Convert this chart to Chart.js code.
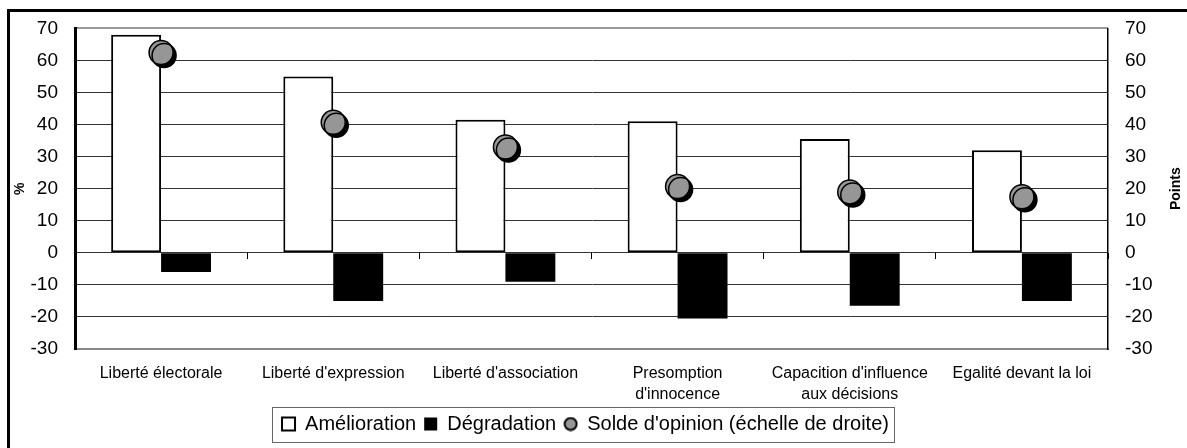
<!DOCTYPE html>
<html>
<head>
<meta charset="utf-8">
<script src="https://cdn.jsdelivr.net/npm/chart.js@4.4.1/dist/chart.umd.min.js"></script>
<style>
html, body { margin: 0; padding: 0; background: #fff; overflow: hidden; }
#cadre { position: absolute; left: 7px; top: 9px; width: 1300px; height: 600px; border: 3px solid #000; box-sizing: border-box; }
#zone { position: absolute; left: 0; top: 0; width: 1187px; height: 448px; }
</style>
</head>
<body>
<div id="cadre"></div>
<div id="zone"><canvas id="grafico" width="1187" height="448"></canvas></div>
<script>
// données
const categories = [
  'Liberté électorale',
  "Liberté d'expression",
  "Liberté d'association",
  ['Presomption', "d'innocence"],
  ["Capacition d'influence", 'aux décisions'],
  'Egalité devant la loi'
];
const amelioration = [68, 55, 41.5, 41, 35.5, 32];
const degradation = [-6, -15, -9, -20.5, -16.5, -15];
const solde = [62.5, 40.7, 33, 20.7, 19, 17.5];
const echelleMin = -30;
const echelleMax = 70;
const pas = 10;

Chart.defaults.font.family = '"Liberation Sans", Arial, sans-serif';
Chart.defaults.color = '#000';

// petit rond gris pour la légende
function rondLegende() {
  const c = document.createElement('canvas');
  c.width = 15; c.height = 15;
  const x = c.getContext('2d');
  x.beginPath();
  x.arc(7.5, 7.5, 6, 0, Math.PI * 2);
  x.fillStyle = '#969696';
  x.fill();
  x.lineWidth = 2;
  x.strokeStyle = '#000';
  x.stroke();
  return c;
}
const rond = rondLegende();

// ombre noire décalée sous les points
const ombrePoints = {
  id: 'ombrePoints',
  beforeDatasetDraw(chart, args) {
    if (args.meta.type !== 'line') return;
    const ctx = chart.ctx;
    ctx.save();
    ctx.shadowColor = '#000';
    ctx.shadowOffsetX = 3;
    ctx.shadowOffsetY = 3;
    ctx.shadowBlur = 0;
  },
  afterDatasetDraw(chart, args) {
    if (args.meta.type !== 'line') return;
    chart.ctx.restore();
  }
};

// cadre autour de la légende
const cadreLegende = {
  id: 'cadreLegende',
  afterDraw(chart) {
    const boites = chart.legend.legendHitBoxes;
    if (!boites || !boites.length) return;
    const ctx = chart.ctx;
    const g = Math.min(...boites.map(b => b.left)) - 10;
    const d = Math.max(...boites.map(b => b.left + b.width)) + 5;
    const h = boites[0].top - 7.5;
    const bas = boites[0].top + boites[0].height + 7.5;
    ctx.save();
    ctx.strokeStyle = '#666';
    ctx.lineWidth = 1;
    ctx.strokeRect(Math.round(g) + 0.5, Math.round(h) + 0.5, Math.round(d - g), Math.round(bas - h));
    ctx.restore();
  }
};

// titre de l'axe de droite, lu de bas en haut
const titreDroite = {
  id: 'titreDroite',
  afterDraw(chart) {
    const s = chart.scales.y1;
    const ctx = chart.ctx;
    ctx.save();
    ctx.translate(s.right + 13, (chart.chartArea.top + chart.chartArea.bottom) / 2);
    ctx.rotate(-Math.PI / 2);
    ctx.font = 'bold 14px "Liberation Sans", Arial, sans-serif';
    ctx.textAlign = 'center';
    ctx.textBaseline = 'middle';
    ctx.fillStyle = '#000';
    ctx.fillText('Points', 0, 0);
    ctx.restore();
  }
};

new Chart(document.getElementById('grafico').getContext('2d'), {
  type: 'bar',
  data: {
    labels: categories,
    datasets: [
      {
        label: 'Amélioration',
        data: amelioration,
        backgroundColor: '#fff',
        borderColor: '#000',
        borderWidth: 2,
        borderSkipped: false,
        pointStyle: 'rect',
        order: 1
      },
      {
        label: 'Dégradation',
        data: degradation,
        backgroundColor: '#000',
        borderColor: '#000',
        borderWidth: 0,
        pointStyle: 'rect',
        order: 1
      },
      {
        type: 'line',
        label: "Solde d'opinion (échelle de droite)",
        data: solde,
        yAxisID: 'y1',
        showLine: false,
        pointStyle: 'circle',
        pointRadius: 12,
        pointHoverRadius: 12,
        pointBackgroundColor: '#969696',
        pointBorderColor: '#000',
        pointBorderWidth: 1.5,
        backgroundColor: '#969696',
        borderColor: '#000',
        borderWidth: 1.5,
        order: 0
      }
    ]
  },
  options: {
    responsive: false,
    animation: false,
    layout: { padding: { left: 8, right: 24, top: 28, bottom: 4 } },
    datasets: { bar: { categoryPercentage: 0.58, barPercentage: 1 } },
    plugins: {
      tooltip: { enabled: false },
      legend: {
        position: 'bottom',
        labels: {
          usePointStyle: true,
          boxWidth: 13,
          boxHeight: 13,
          padding: 8,
          color: '#000',
          font: { size: 20 },
          sort: (a, b) => a.datasetIndex - b.datasetIndex,
          generateLabels(chart) {
            const items = Chart.defaults.plugins.legend.labels.generateLabels(chart);
            items.forEach(it => {
              if (chart.data.datasets[it.datasetIndex].type === 'line') it.pointStyle = rond;
            });
            return items;
          }
        }
      }
    },
    scales: {
      x: {
        grid: { display: false, drawTicks: false },
        border: { color: '#888', width: 2 },
        ticks: { color: '#000', font: { size: 16, lineHeight: 1.3 }, padding: 14, maxRotation: 0, autoSkip: false },
        afterFit: s => { s.height = 57; }
      },
      xZero: {
        type: 'category',
        position: { y: 0 },
        offset: true,
        grid: { offset: true, drawOnChartArea: false, drawTicks: true, tickLength: 6, tickColor: '#000', tickWidth: 1 },
        border: { display: false },
        ticks: { display: false }
      },
      y: {
        position: 'left',
        min: echelleMin,
        max: echelleMax,
        ticks: { stepSize: pas, color: '#000', font: { size: 19 }, padding: 17 },
        grid: {
          drawTicks: false,
          color: c => (c.tick.value === echelleMax || c.tick.value === echelleMin) ? '#999' : '#333',
          lineWidth: c => (c.tick.value === echelleMax) ? 2 : 1
        },
        border: { color: '#000', width: 3 },
        title: { display: true, text: '%', color: '#000', font: { size: 14, weight: 'bold' }, padding: { top: 4, bottom: 0 } },
        afterFit: s => { s.width = 67; }
      },
      y1: {
        position: 'right',
        min: echelleMin,
        max: echelleMax,
        ticks: { stepSize: pas, color: '#000', font: { size: 19 }, padding: 17 },
        grid: { drawOnChartArea: false, drawTicks: false },
        border: { color: '#000', width: 1.5 },
        afterFit: s => { s.width = 55; }
      }
    }
  },
  plugins: [ombrePoints, cadreLegende, titreDroite]
});
</script>
</body>
</html>
